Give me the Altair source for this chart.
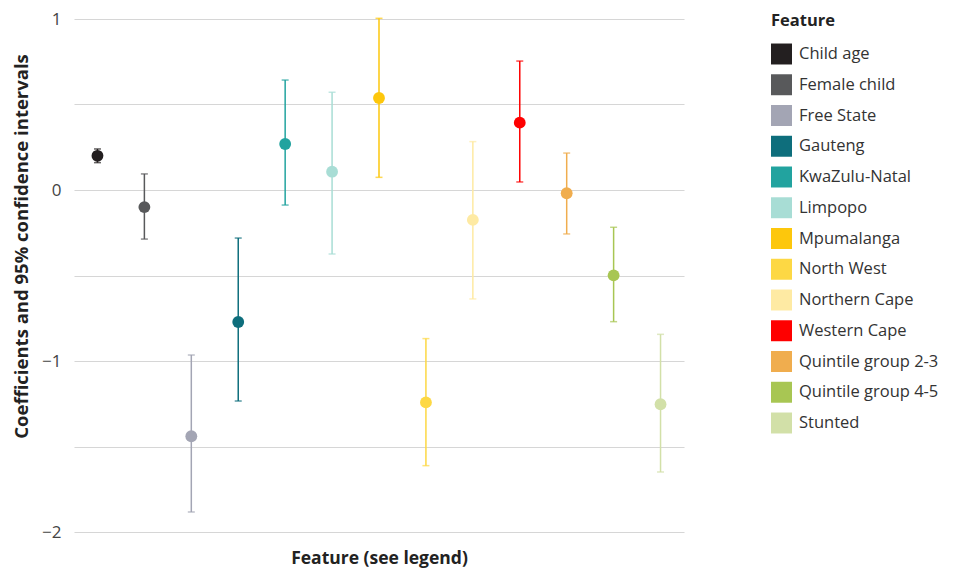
import altair as alt
import pandas as pd

features = ["Child age", "Female child", "Free State", "Gauteng", "KwaZulu-Natal",
            "Limpopo", "Mpumalanga", "North West", "Northern Cape", "Western Cape",
            "Quintile group 2-3", "Quintile group 4-5", "Stunted"]
coef = [0.20, -0.10, -1.44, -0.772, 0.269, 0.107, 0.538, -1.242, -0.175, 0.394, -0.019, -0.499, -1.253]
lower = [0.16, -0.287, -1.883, -1.234, -0.088, -0.374, 0.074, -1.612, -0.637, 0.047, -0.257, -0.770, -1.649]
upper = [0.24, 0.094, -0.965, -0.281, 0.643, 0.571, 1.004, -0.869, 0.283, 0.754, 0.216, -0.218, -0.844]
colors = ["#231f20", "#58595b", "#a3a5b4", "#0e6e7c", "#22a39f", "#a8ddd5", "#fdc70c",
          "#fdd844", "#feeaa3", "#fe0000", "#f0ad4e", "#a8c653", "#d2e0a8"]

df = pd.DataFrame({"Feature": features, "coef": coef, "lower": lower, "upper": upper})

FONT = "Open Sans"

x = alt.X("Feature:N", sort=features, title="Feature (see legend)",
          axis=alt.Axis(labels=False, ticks=False, domain=False, grid=False, titleFontSize=17.5,
                        titleFontWeight="bold", titleColor="#222222", titlePadding=17,
                        titleFont=FONT))
color = alt.Color("Feature:N", sort=features,
                  scale=alt.Scale(domain=features, range=colors),
                  legend=alt.Legend(title="Feature", symbolType="square", symbolSize=440,
                                    symbolStrokeWidth=0, symbolOpacity=1,
                                    titleFontSize=16.5, titleFontWeight="bold", titleColor="#222222",
                                    labelFontSize=16.5, labelColor="#333333", rowPadding=9.75,
                                    labelFont=FONT, titleFont=FONT, titlePadding=14,
                                    labelOffset=7, orient="none", legendX=697, legendY=-6))

yaxis = alt.Axis(values=[-2, -1.5, -1, -0.5, 0, 0.5, 1],
                 labelExpr="datum.value % 1 == 0 ? format(datum.value, 'd') : ''",
                 ticks=False, domain=False, labelFontSize=17, labelColor="#444444",
                 labelPadding=13, gridColor="#d6d6d6", gridWidth=1.2,
                 title="Coefficients and 95% confidence intervals", titleFontSize=18.5,
                 titleFontWeight="bold", titleColor="#222222", titlePadding=10,
                 titleY=227, labelFont=FONT, titleFont=FONT)

base = alt.Chart(df)

rules = base.mark_rule(strokeWidth=1.5).encode(
    x=x,
    y=alt.Y("lower:Q", scale=alt.Scale(domain=[-2, 1], nice=False), axis=yaxis),
    y2="upper:Q",
    color=color,
)
caps_lo = base.mark_tick(orient="horizontal", size=7, thickness=1.5).encode(
    x=x, y="lower:Q", color=color)
caps_hi = base.mark_tick(orient="horizontal", size=7, thickness=1.5).encode(
    x=x, y="upper:Q", color=color)
points = base.mark_circle(size=140, opacity=1).encode(
    x=x, y="coef:Q", color=color)

chart = alt.layer(rules, caps_lo, caps_hi, points).properties(
    width=610, height=513,
    autosize=alt.AutoSizeParams(type="none"),
    padding={"left": 66, "top": 11, "right": 264, "bottom": 36}
).configure(font=FONT).configure_view(stroke="transparent", strokeWidth=0)

chart.save("out.html", embed_options={"renderer": "svg", "actions": False})
